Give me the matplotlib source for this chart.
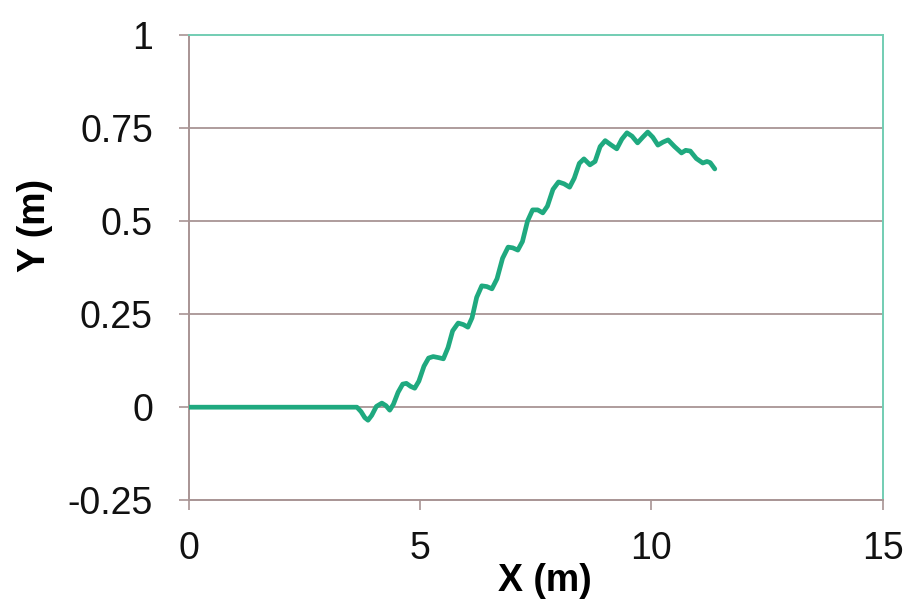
import matplotlib
matplotlib.use("Agg")
import matplotlib.pyplot as plt

# trajectory
x_m = [0, 3.63, 3.72, 3.80, 3.87, 3.95, 4.05, 4.17, 4.26, 4.34, 4.42, 4.52, 4.62, 4.70,
       4.79, 4.88, 4.97, 5.08, 5.18, 5.28, 5.40, 5.50, 5.60, 5.70, 5.82, 5.93, 6.03,
       6.12, 6.22, 6.33, 6.44, 6.55, 6.66, 6.78, 6.90, 7.00, 7.11, 7.21, 7.32, 7.43,
       7.54, 7.65, 7.75, 7.87, 7.99, 8.11, 8.23, 8.33, 8.44, 8.54, 8.67, 8.78, 8.89,
       9.00, 9.12, 9.25, 9.36, 9.47, 9.58, 9.70, 9.81, 9.92, 10.03, 10.14, 10.25,
       10.36, 10.50, 10.65, 10.74, 10.84, 10.97, 11.11, 11.20, 11.27, 11.37]
y_m = [0, 0, -0.012, -0.028, -0.035, -0.022, 0.002, 0.011, 0.004, -0.008, 0.008, 0.040,
       0.062, 0.064, 0.056, 0.051, 0.070, 0.110, 0.132, 0.136, 0.133, 0.130, 0.160,
       0.205, 0.226, 0.222, 0.215, 0.240, 0.295, 0.326, 0.324, 0.318, 0.345, 0.400,
       0.430, 0.428, 0.422, 0.445, 0.500, 0.530, 0.530, 0.522, 0.540, 0.585, 0.605,
       0.600, 0.591, 0.615, 0.655, 0.667, 0.651, 0.660, 0.700, 0.716, 0.705, 0.694,
       0.720, 0.737, 0.728, 0.710, 0.725, 0.739, 0.725, 0.704, 0.712, 0.718, 0.700,
       0.683, 0.690, 0.688, 0.668, 0.656, 0.660, 0.657, 0.640]

x_ticks = [0, 5, 10, 15]
y_ticks = [-0.25, 0, 0.25, 0.5, 0.75, 1]
y_tick_labels = ['-0.25', '0', '0.25', '0.5', '0.75', '1']

plt.rcParams['font.family'] = ['Liberation Sans', 'DejaVu Sans']

grid_col = '#a89494'
frame_col = '#72cdb3'
line_col = '#1fa97f'

fig = plt.figure(figsize=(9.09, 6.02), dpi=100)
ax = fig.add_axes([0.208, 0.169, 0.763, 0.773])

ax.plot(x_m, y_m, color=line_col, linewidth=3.4, solid_joinstyle='round',
        solid_capstyle='round', zorder=3)

ax.set_xlim(0, 15)
ax.set_ylim(-0.25, 1)
ax.set_xticks(x_ticks)
ax.set_yticks(y_ticks)
ax.set_yticklabels(y_tick_labels)

for y in y_ticks[1:-1]:
    ax.axhline(y, color=grid_col, linewidth=1.3, zorder=1)

ax.spines['left'].set_color(grid_col)
ax.spines['bottom'].set_color(grid_col)
ax.spines['top'].set_color(frame_col)
ax.spines['right'].set_color(frame_col)
for s in ax.spines.values():
    s.set_linewidth(1.4)

ax.tick_params(axis='both', direction='out', length=7, width=1.2, color=grid_col,
               labelsize=27, labelcolor='#111111')
ax.tick_params(axis='y', pad=19)
ax.tick_params(axis='x', pad=15)

ax.set_xlabel('X (m)', fontsize=27, fontweight='bold')
ax.set_ylabel('Y (m)', fontsize=27, fontweight='bold')
ax.xaxis.set_label_coords(0.513, -0.135)
ax.yaxis.set_label_coords(-0.196, 0.59)

plt.savefig('out.png', dpi=100)
plt.close()
